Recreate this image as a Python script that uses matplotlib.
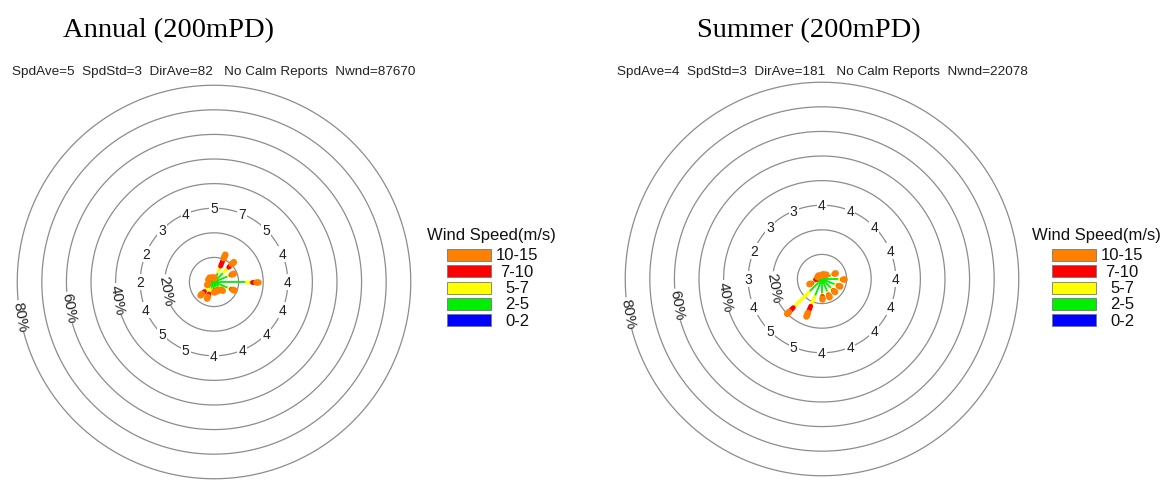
import numpy as np
import matplotlib.pyplot as plt
from matplotlib.patches import Rectangle

W, H = 1163, 481

# compass sectors, clockwise from north
directions = ["N", "NNE", "NE", "ENE", "E", "ESE", "SE", "SSE",
              "S", "SSW", "SW", "WSW", "W", "WNW", "NW", "NNW"]

speed_bins = ["0-2", "2-5", "5-7", "7-10", "10-15"]
bin_colors = ["#0000ff", "#00ee00", "#ffff00", "#ff0000", "#ff8000"]
bin_widths = [0.8, 1.3, 2.4, 3.5, 4.8]

ring_levels = [10, 20, 30, 40, 50, 60, 70, 80]
ring_labels = [20, 40, 60, 80]

# percent frequency per direction, split by speed bin (0-2, 2-5, 5-7, 7-10, 10-15)
annual_freq = [
    [0.2, 0.9, 0.4, 0.3, 0.2],
    [0.3, 4.2, 2.5, 3.5, 1.5],
    [0.3, 5.3, 2.9, 1.8, 1.1],
    [0.3, 6.2, 1.0, 0.6, 0.6],
    [0.3, 12.7, 2.5, 1.5, 1.0],
    [0.3, 6.2, 1.2, 0.7, 0.6],
    [0.3, 3.0, 0.8, 0.5, 0.4],
    [0.3, 2.4, 0.6, 0.4, 0.3],
    [0.3, 2.4, 0.6, 0.4, 0.3],
    [0.2, 3.3, 1.8, 1.3, 0.7],
    [0.2, 3.5, 1.8, 1.4, 0.8],
    [0.2, 1.8, 0.5, 0.3, 0.2],
    [1.2, 1.4, 0.2, 0.1, 0.1],
    [1.0, 1.2, 0.15, 0.1, 0.05],
    [0.6, 1.4, 0.3, 0.1, 0.1],
    [0.3, 1.1, 0.3, 0.2, 0.1],
]
annual_spd = [5, 7, 5, 4, 4, 4, 4, 4, 4, 5, 5, 4, 2, 2, 3, 4]

summer_freq = [
    [0.2, 1.0, 0.4, 0.2, 0.2],
    [0.2, 1.0, 0.4, 0.2, 0.2],
    [0.2, 1.4, 0.4, 0.3, 0.2],
    [0.3, 4.2, 0.8, 0.4, 0.3],
    [0.3, 6.5, 1.2, 0.6, 0.4],
    [0.3, 5.7, 1.1, 0.5, 0.4],
    [0.3, 5.3, 1.0, 0.5, 0.4],
    [0.3, 5.7, 1.0, 0.6, 0.4],
    [0.3, 5.6, 1.1, 0.6, 0.4],
    [0.2, 7.6, 4.2, 3.0, 1.5],
    [0.2, 7.4, 8.9, 2.5, 1.0],
    [0.3, 3.4, 0.9, 0.5, 0.4],
    [0.3, 1.8, 0.5, 0.2, 0.2],
    [0.4, 1.2, 0.2, 0.1, 0.1],
    [0.3, 1.2, 0.3, 0.1, 0.1],
    [0.3, 0.8, 0.2, 0.1, 0.1],
]
summer_spd = [4, 4, 4, 4, 4, 4, 4, 4, 4, 5, 5, 4, 3, 2, 3, 3]

panels = [
    dict(title="Annual (200mPD)", title_x=63,
         info="SpdAve=5  SpdStd=3  DirAve=82   No Calm Reports  Nwnd=87670",
         freq=annual_freq, spd=annual_spd, cx=214, cy=283, leg_x=427),
    dict(title="Summer (200mPD)", title_x=697,
         info="SpdAve=4  SpdStd=3  DirAve=181   No Calm Reports  Nwnd=22078",
         freq=summer_freq, spd=summer_spd, cx=822, cy=280, leg_x=1032),
]

R_PX = 198  # pixel radius of the 80% ring
RING_COLOR = "#8c8c8c"
SANS = "Liberation Sans"


def fx(x):
    return x / W


def fy(y):
    return 1 - y / H


fig = plt.figure(figsize=(W / 100, H / 100), dpi=100)

for p in panels:
    ax = fig.add_axes([fx(p["cx"] - R_PX), fy(p["cy"] + R_PX),
                       2 * R_PX / W, 2 * R_PX / H], projection="polar")
    ax.set_theta_zero_location("N")
    ax.set_theta_direction(-1)
    ax.set_ylim(0, 80.5)
    ax.set_xticks([])
    ax.set_yticks([])
    ax.grid(False)
    ax.spines["polar"].set_visible(False)
    ax.patch.set_alpha(0)

    full = np.linspace(0, 2 * np.pi, 361)
    for r in ring_levels:
        ax.plot(full, np.full_like(full, r), color=RING_COLOR, lw=0.9,
                solid_capstyle="butt", zorder=1, clip_on=False)

    # petals: one segment per speed bin, stacked outward
    for i, row in enumerate(p["freq"]):
        th = np.deg2rad(i * 22.5)
        r0 = 0.0
        for k, v in enumerate(row):
            ax.plot([th, th], [r0, r0 + v], color=bin_colors[k],
                    lw=bin_widths[k], solid_capstyle="round", zorder=3 + k)
            r0 += v

    # mean speed per sector on the 30% ring
    for i, s in enumerate(p["spd"]):
        ax.text(np.deg2rad(i * 22.5), 30, str(s), ha="center", va="center",
                fontsize=10, family=SANS, color="#222222", zorder=10,
                bbox=dict(boxstyle="square,pad=0.08", fc="white", ec="none"))

    for r in ring_labels:
        ax.text(np.deg2rad(260), r, f"{r}%", ha="center", va="center",
                rotation=-80, rotation_mode="anchor", fontsize=11,
                family=SANS, color="#222222", zorder=10,
                bbox=dict(boxstyle="square,pad=0.05", fc="white", ec="none"))

    fig.text(fx(p["title_x"]), fy(31), p["title"], ha="left", va="center",
             fontsize=20.5, family="Liberation Serif")
    fig.text(fx(p["cx"]), fy(72), p["info"], ha="center", va="center",
             fontsize=9.7, family=SANS, color="#222222")

    # speed legend
    lx = p["leg_x"]
    fig.text(fx(lx), fy(236), "Wind Speed(m/s)", ha="left", va="center",
             fontsize=12, family=SANS, color="#111111")
    for j, k in enumerate(range(len(speed_bins) - 1, -1, -1)):
        top = 250 + j * 16.3
        fig.add_artist(Rectangle((fx(lx + 20), fy(top + 12)), 44 / W, 12 / H,
                                 transform=fig.transFigure, fc=bin_colors[k],
                                 ec="#777777", lw=0.6))
        fig.text(fx(lx + 90), fy(top + 6), speed_bins[k], ha="center",
                 va="center", fontsize=12, family=SANS, color="#111111")

fig.savefig("out.png", dpi=100)
